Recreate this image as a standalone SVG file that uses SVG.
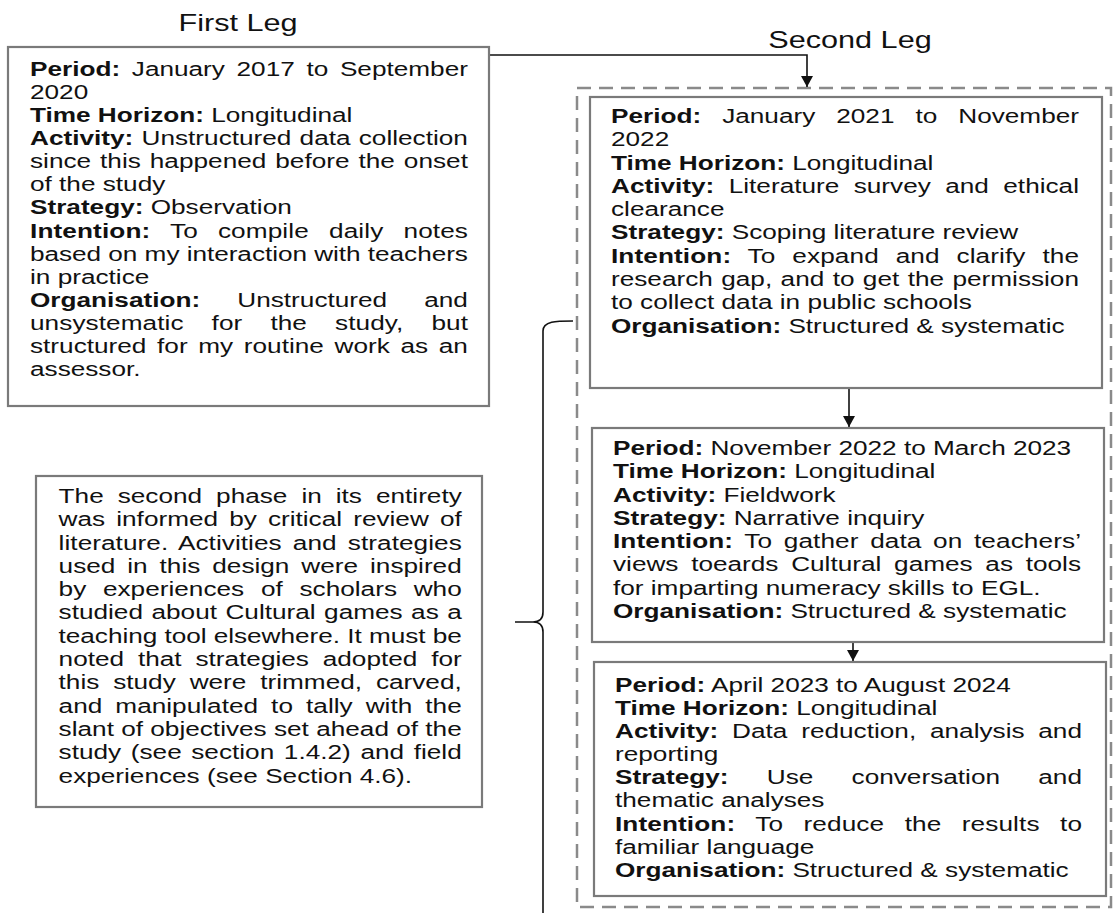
<svg xmlns="http://www.w3.org/2000/svg" width="1114" height="913" viewBox="0 0 1114 913">
<style>
.t{font-family:"Liberation Sans",Arial,sans-serif;font-size:21px;fill:#111}
.ti{font-family:"Liberation Sans",Arial,sans-serif;font-size:24.5px;fill:#111;text-anchor:middle}
.b{font-weight:bold}
.box{fill:#fff;stroke:#7a7a7a;stroke-width:2.2}
.dash{fill:none;stroke:#8a8a8a;stroke-width:2.5;stroke-dasharray:14 8}
.con{fill:none;stroke:#111;stroke-width:1.6}
</style>
<defs>
<marker id="ah" markerUnits="userSpaceOnUse" markerWidth="12" markerHeight="12" refX="11" refY="6" orient="auto">
<path d="M0,0 L11,6 L0,12 z" fill="#111"/>
</marker>
</defs>
<rect width="1114" height="913" fill="#fff"/>

<g id="titles">
<text class="ti" transform="translate(238,31) scale(1.25,1)">First Leg</text>
<text class="ti" transform="translate(850,48) scale(1.25,1)">Second Leg</text>
</g>

<g id="second-leg-frame">
<rect class="dash" x="577" y="88" width="534" height="819"/>
</g>

<g id="connectors">
<path class="con" d="M489,55 H807 V87" marker-end="url(#ah)"/>
<path class="con" d="M849,388 V427" marker-end="url(#ah)"/>
<path class="con" d="M853,642 V661" marker-end="url(#ah)"/>
<path class="con" d="M573,321 C556,321 543,321 543,331 L543,612 Q543,622 533,622 L515,622 L533,622 Q543,622 543,632 L543,913"/>
</g>

<g id="box1">
<rect class="box" x="8" y="47" width="481" height="359"/>
<g transform="translate(30,0) scale(1.247,1)">
<text class="t" y="76" word-spacing="3.5" textLength="351.2" lengthAdjust="spacing"><tspan class="b">Period:</tspan> January 2017 to September</text>
<text class="t" y="99.1">2020</text>
<text class="t" y="122.2"><tspan class="b">Time Horizon:</tspan> Longitudinal</text>
<text class="t" y="145.2" word-spacing="0.7" textLength="351.2" lengthAdjust="spacing"><tspan class="b">Activity:</tspan> Unstructured data collection</text>
<text class="t" y="168.3" word-spacing="1.35" textLength="351.2" lengthAdjust="spacing">since this happened before the onset</text>
<text class="t" y="191.4">of the study</text>
<text class="t" y="214.5"><tspan class="b">Strategy:</tspan> Observation</text>
<text class="t" y="237.6" word-spacing="10.2" textLength="351.2" lengthAdjust="spacing"><tspan class="b">Intention:</tspan> To compile daily notes</text>
<text class="t" y="260.6" textLength="351.2" lengthAdjust="spacing">based on my interaction with teachers</text>
<text class="t" y="283.7">in practice</text>
<text class="t" y="306.8" word-spacing="23.9" textLength="351.2" lengthAdjust="spacing"><tspan class="b">Organisation:</tspan> Unstructured and</text>
<text class="t" y="329.9" word-spacing="16.6" textLength="351.2" lengthAdjust="spacing">unsystematic for the study, but</text>
<text class="t" y="353" word-spacing="2.7" textLength="351.2" lengthAdjust="spacing">structured for my routine work as an</text>
<text class="t" y="376">assessor.</text>
</g>
</g>

<g id="box2">
<rect class="box" x="590" y="97" width="512" height="291"/>
<g transform="translate(611,0) scale(1.247,1)">
<text class="t" y="123" word-spacing="11" textLength="375.3" lengthAdjust="spacing"><tspan class="b">Period:</tspan> January 2021 to November</text>
<text class="t" y="146.3">2022</text>
<text class="t" y="169.6"><tspan class="b">Time Horizon:</tspan> Longitudinal</text>
<text class="t" y="192.9" word-spacing="5.7" textLength="375.3" lengthAdjust="spacing"><tspan class="b">Activity:</tspan> Literature survey and ethical</text>
<text class="t" y="216.2">clearance</text>
<text class="t" y="239.5"><tspan class="b">Strategy:</tspan> Scoping literature review</text>
<text class="t" y="262.8" word-spacing="7.6" textLength="375.3" lengthAdjust="spacing"><tspan class="b">Intention:</tspan> To expand and clarify the</text>
<text class="t" y="286.1" word-spacing="0.9" textLength="375.3" lengthAdjust="spacing">research gap, and to get the permission</text>
<text class="t" y="309.4">to collect data in public schools</text>
<text class="t" y="332.7"><tspan class="b">Organisation:</tspan> Structured &amp; systematic</text>
</g>
</g>

<g id="box3">
<rect class="box" x="592" y="428" width="512" height="214"/>
<g transform="translate(613,0) scale(1.247,1)">
<text class="t" y="455"><tspan class="b">Period:</tspan> November 2022 to March 2023</text>
<text class="t" y="478.3"><tspan class="b">Time Horizon:</tspan> Longitudinal</text>
<text class="t" y="501.6"><tspan class="b">Activity:</tspan> Fieldwork</text>
<text class="t" y="524.9"><tspan class="b">Strategy:</tspan> Narrative inquiry</text>
<text class="t" y="548.2" word-spacing="3.4" textLength="375.3" lengthAdjust="spacing"><tspan class="b">Intention:</tspan> To gather data on teachers’</text>
<text class="t" y="571.5" word-spacing="4.35" textLength="375.3" lengthAdjust="spacing">views toeards Cultural games as tools</text>
<text class="t" y="594.8">for imparting numeracy skills to EGL.</text>
<text class="t" y="618.1"><tspan class="b">Organisation:</tspan> Structured &amp; systematic</text>
</g>
</g>

<g id="box4">
<rect class="box" x="594" y="662" width="512" height="234"/>
<g transform="translate(615,0) scale(1.247,1)">
<text class="t" y="692"><tspan class="b">Period:</tspan> April 2023 to August 2024</text>
<text class="t" y="715.1"><tspan class="b">Time Horizon:</tspan> Longitudinal</text>
<text class="t" y="738.2" word-spacing="5.2" textLength="374.5" lengthAdjust="spacing"><tspan class="b">Activity:</tspan> Data reduction, analysis and</text>
<text class="t" y="761.3">reporting</text>
<text class="t" y="784.4" word-spacing="24.8" textLength="374.5" lengthAdjust="spacing"><tspan class="b">Strategy:</tspan> Use conversation and</text>
<text class="t" y="807.5">thematic analyses</text>
<text class="t" y="830.6" word-spacing="10.5" textLength="374.5" lengthAdjust="spacing"><tspan class="b">Intention:</tspan> To reduce the results to</text>
<text class="t" y="853.7">familiar language</text>
<text class="t" y="876.8"><tspan class="b">Organisation:</tspan> Structured &amp; systematic</text>
</g>
</g>

<g id="note">
<rect class="box" x="36" y="476" width="446" height="331"/>
<g transform="translate(58.6,0) scale(1.247,1)">
<text class="t" y="503" word-spacing="5.4" textLength="323.3" lengthAdjust="spacing">The second phase in its entirety</text>
<text class="t" y="526.3" word-spacing="3.05" textLength="323.3" lengthAdjust="spacing">was informed by critical review of</text>
<text class="t" y="549.6" word-spacing="3.1" textLength="323.3" lengthAdjust="spacing">literature. Activities and strategies</text>
<text class="t" y="572.9" word-spacing="3.7" textLength="323.3" lengthAdjust="spacing">used in this design were inspired</text>
<text class="t" y="596.2" word-spacing="7.6" textLength="323.3" lengthAdjust="spacing">by experiences of scholars who</text>
<text class="t" y="619.5" word-spacing="0.95" textLength="323.3" lengthAdjust="spacing">studied about Cultural games as a</text>
<text class="t" y="642.8" textLength="323.3" lengthAdjust="spacing">teaching tool elsewhere. It must be</text>
<text class="t" y="666.1" word-spacing="5.3" textLength="323.3" lengthAdjust="spacing">noted that strategies adopted for</text>
<text class="t" y="689.4" word-spacing="5.3" textLength="323.3" lengthAdjust="spacing">this study were trimmed, carved,</text>
<text class="t" y="712.7" word-spacing="4.65" textLength="323.3" lengthAdjust="spacing">and manipulated to tally with the</text>
<text class="t" y="736" textLength="323.3" lengthAdjust="spacing">slant of objectives set ahead of the</text>
<text class="t" y="759.3" word-spacing="1.85" textLength="323.3" lengthAdjust="spacing">study (see section 1.4.2) and field</text>
<text class="t" y="782.6">experiences (see Section 4.6).</text>
</g>
</g>
</svg>
